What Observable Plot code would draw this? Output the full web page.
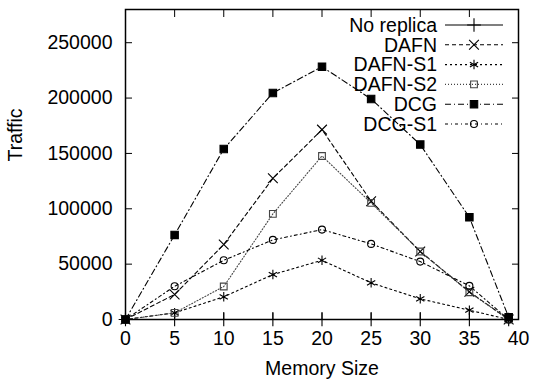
<!DOCTYPE html>
<html>
<head>
<meta charset="utf-8">
<script src="https://cdn.jsdelivr.net/npm/d3@7"></script>
<script src="https://cdn.jsdelivr.net/npm/@observablehq/plot@0.6"></script>
<style>
  body { margin: 0; background: #fff; }
  #chart { position: relative; width: 538px; height: 379px; }
</style>
</head>
<body>
<div id="chart"></div>
<script>
const memorySize = [0, 5, 10, 15, 20, 25, 30, 35, 39];
const noReplica = [0, 0, 0, 0, 0, 0, 0, 0, 0];
const dafn = [0, 22600, 67700, 127500, 171500, 106800, 61400, 25000, 0];
const dafnS1 = [0, 6000, 20500, 40600, 53500, 33100, 18700, 8400, 0];
const dafnS2 = [0, 6000, 29800, 95400, 147700, 105300, 61400, 24600, 0];
const dcg = [0, 76400, 154000, 204600, 228300, 199200, 158000, 92300, 2000];
const dcgS1 = [0, 30000, 53500, 71900, 81200, 68300, 52300, 30400, 0];
const xTicks = [0, 5, 10, 15, 20, 25, 30, 35, 40];
const yTicks = [0, 50000, 100000, 150000, 200000, 250000];

const seriesDefs = [
  {name: "No replica", values: noReplica, dash: null, color: "#000", symbol: "plus", r: 4.5, fill: "none"},
  {name: "DAFN", values: dafn, dash: "4,3", color: "#000", symbol: "times", r: 4.5, fill: "none"},
  {name: "DAFN-S1", values: dafnS1, dash: "2,3", color: "#000", symbol: "asterisk", r: 4.5, fill: "none"},
  {name: "DAFN-S2", values: dafnS2, dash: "1,2", color: "#444", symbol: "square", r: 3.8, fill: "none"},
  {name: "DCG", values: dcg, dash: "6,3,1,3", color: "#000", symbol: "square", r: 4.2, fill: "#000"},
  {name: "DCG-S1", values: dcgS1, dash: "3,3,1,3", color: "#000", symbol: "circle", r: 3.5, fill: "none"}
];

const font = "'Liberation Sans', Arial, Helvetica, sans-serif";
const marks = [];
for (const s of seriesDefs) {
  const data = memorySize.map((x, i) => ({x, y: s.values[i]}));
  marks.push(Plot.line(data, {x: "x", y: "y", stroke: s.color, strokeWidth: 1.1, strokeDasharray: s.dash}));
}
for (const s of seriesDefs) {
  const data = memorySize.map((x, i) => ({x, y: s.values[i]}));
  marks.push(Plot.dot(data, {x: "x", y: "y", symbol: () => s.symbol, r: s.r, stroke: s.color, fill: s.fill, strokeWidth: 1.1}));
}

const plot = Plot.plot({
  width: 538,
  height: 379,
  marginLeft: 125,
  marginRight: 20,
  marginTop: 9,
  marginBottom: 60,
  style: {fontFamily: font, fontSize: "19.5px", color: "#000", background: "#fff"},
  x: {domain: [0, 40]},
  y: {domain: [0, 280000]},
  symbol: {type: "identity"},
  marks: [
    Plot.axisX(xTicks, {tickSize: 0, tickPadding: 12, fontSize: 19.5, label: null}),
    Plot.axisX(xTicks, {tickSize: -7, tickFormat: () => "", label: null}),
    Plot.axisX(xTicks, {anchor: "top", tickSize: -7, tickFormat: () => "", label: null}),
    Plot.axisY(yTicks, {tickSize: 0, tickPadding: 13, fontSize: 19.5, label: null, tickFormat: d => String(d)}),
    Plot.axisY(yTicks, {tickSize: -7, tickFormat: () => "", label: null}),
    Plot.axisY(yTicks, {anchor: "right", tickSize: -7, tickFormat: () => "", label: null}),
    ...marks,
    Plot.frame({stroke: "#000", strokeWidth: 1.5}),
    Plot.text(["Traffic"], {frameAnchor: "left", dx: -110, dy: -3, rotate: -90, fontSize: 19.5, lineAnchor: "middle"}),
    Plot.text(["Memory Size"], {frameAnchor: "bottom", dy: 49, fontSize: 19.5, lineAnchor: "middle"})
  ]
});

// Legend (gnuplot-style, inside the plot at top right)
const svg = d3.select(plot);
const leg = svg.append("g").attr("font-family", font).attr("font-size", 19.5);
const symMap = {plus: d3.symbolPlus, times: d3.symbolTimes, asterisk: d3.symbolAsterisk, square: d3.symbolSquare, circle: d3.symbolCircle};
seriesDefs.forEach((s, i) => {
  const cy = 25 + i * 19.8;
  leg.append("text").attr("x", 437).attr("y", cy).attr("text-anchor", "end")
    .attr("dy", "0.35em").attr("fill", "#000").text(s.name);
  leg.append("line").attr("x1", 445).attr("x2", 503).attr("y1", cy).attr("y2", cy)
    .attr("stroke", s.color).attr("stroke-width", 1.1)
    .attr("stroke-dasharray", s.dash);
  leg.append("path").attr("transform", `translate(474,${cy})`)
    .attr("d", d3.symbol(symMap[s.symbol], Math.PI * s.r * s.r)())
    .attr("stroke", s.color).attr("fill", s.fill).attr("stroke-width", 1.1);
});

document.getElementById("chart").appendChild(plot);
</script>
</body>
</html>
